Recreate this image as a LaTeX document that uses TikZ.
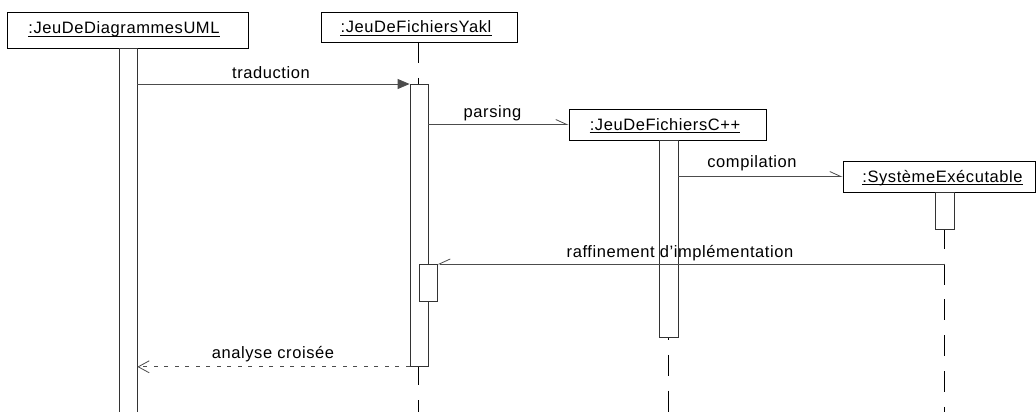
\documentclass[tikz,border=0pt]{standalone}
\usepackage{fontspec}
\setmainfont{Liberation Sans}
\usetikzlibrary{arrows.meta}
\begin{document}
\begin{tikzpicture}[x=1pt,y=-1pt,
  obj/.style={draw=black, line width=0.8pt, fill=white, inner sep=0pt},
  act/.style={draw=black!80, line width=0.8pt, fill=white, inner sep=0pt, anchor=north},
  lifeline/.style={draw=black, line width=0.8pt, dash pattern=on 21pt off 14.8pt},
  msg/.style={draw=black!70, line width=0.8pt},
  lbl/.style={font=\fontsize{16.5}{19}\selectfont\addfontfeature{LetterSpace=3.5}, inner sep=0pt, anchor=base},
  uline/.style={draw=black, line width=0.7pt},
]
\useasboundingbox (0,0) rectangle (1036,412);

% object boxes
\node[obj, minimum width=241pt, minimum height=36pt] (uml) at (127.5,30) {};
\node[obj, minimum width=196pt, minimum height=30pt] (yakl) at (419,27) {};
\node[obj, minimum width=197pt, minimum height=31pt] (cpp) at (667.5,124.5) {};
\node[obj, minimum width=192pt, minimum height=31pt] (sys) at (939,176.5) {};

% labels of objects
\node[lbl] (umlT) at (124,34) {:JeuDeDiagrammesUML};
\node[lbl] (yaklT) at (416,33) {:JeuDeFichiersYakl};
\node[lbl] (cppT) at (665,130) {:JeuDeFichiersC++};
\node[lbl] (sysT) at (942.5,182) {:SystèmeExécutable};
\foreach \n in {umlT,yaklT,cppT,sysT}
  \draw[uline] ([yshift=-2pt]\n.base west) -- ([yshift=-2pt]\n.base east);

% lifeline ends
\coordinate (yaklEnd) at (418,412);
\coordinate (cppEnd) at (668.5,412);
\coordinate (sysEnd) at (944.5,412);
\draw[lifeline] (418,42) -- (yaklEnd);
\draw[lifeline] (668.5,140) -- (cppEnd);
\draw[lifeline] (944.5,192) -- (sysEnd);

% activations
\node[act, minimum width=18pt, minimum height=370pt] (umlA) at (128,48) {};
\node[act, minimum width=18pt, minimum height=282pt] (yaklA) at (419,84) {};
\node[act, minimum width=18pt, minimum height=37pt] (yaklB) at (428,264) {};
\node[act, minimum width=19pt, minimum height=197pt] (cppA) at (668.5,140) {};
\node[act, minimum width=19pt, minimum height=37pt] (sysA) at (944.5,192) {};

% messages
\draw[msg, -{Triangle[length=12pt,width=10pt]}] (umlA.east |- yaklA.north) -- (yaklA.north west);
\node[lbl] (m1) at (271,78) {traduction};

\draw[msg, -{Straight Barb[left,length=11pt,width=10pt]}] (yaklA.east |- cpp.west) -- (cpp.west);
\node[lbl] (m2) at (492.5,117) {parsing};

\draw[msg, -{Straight Barb[left,length=11pt,width=10pt]}] (cppA.east |- sys.west) -- (sys.west);
\node[lbl] (m3) at (752,167.5) {compilation};

\draw[msg, -{Straight Barb[right,length=11pt,width=10pt]}] (sysA.south |- yaklB.north) -- (yaklB.north east);
\node[lbl] (m4) at (680,257) {raffinement d'implémentation};

\draw[msg, dash pattern=on 4pt off 6.5pt, -{Straight Barb[length=11pt,width=12pt]}] (yaklA.south west) -- (umlA.east |- yaklA.south);
\node[lbl] (m5) at (273,358) {analyse croisée};
\end{tikzpicture}
\end{document}
